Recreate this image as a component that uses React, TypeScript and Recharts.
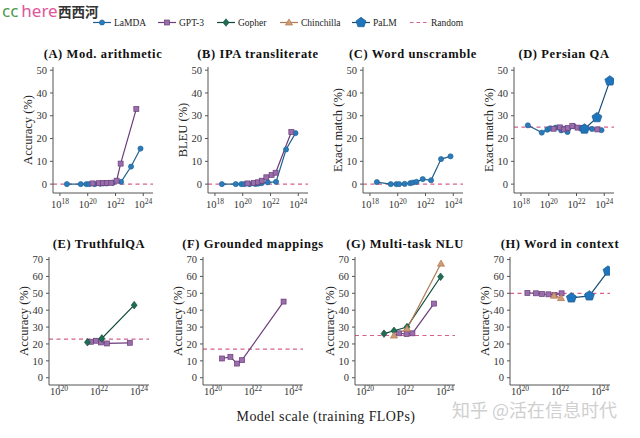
import React from 'react';
import { LineChart, Line, XAxis, YAxis, ReferenceLine } from 'recharts';

const SERIF = '"Liberation Serif", "DejaVu Serif", serif';

// x values are log10(training FLOPs)
const lamdaFlops = [18.5, 19.5, 19.9, 20.1, 20.5, 20.9, 21.1, 21.35, 21.8, 22.4, 23.12, 23.8];
const gpt3Flops = [20.35, 20.8, 21.1, 21.37, 21.7, 22.08, 22.37, 23.5];
const palmFlops = [22.57, 23.47, 24.4];

// (A) Mod. arithmetic
const lamdaArith = [0, 0, 0, 0, 0, 0.2, 0.3, 0.3, 0.6, 1.0, 7.7, 15.6];
const gpt3Arith = [0.3, 0.4, 0.4, 0.5, 0.6, 1.5, 9.0, 33.0];
// (B) IPA transliterate
const lamdaIpa = [0, 0, 0, 0, 0, 0.1, 0.2, 0.4, 0.8, 1.0, 15.2, 22.4];
const gpt3Ipa = [0.3, 0.5, 0.8, 1.5, 3.0, 4.0, 5.0, 22.9];
// (C) Word unscramble
const lamdaUnscramble = [0.9, 0, 0, 0, 0.1, 0.4, 0.7, 1.0, 2.2, 1.7, 11.0, 12.2];
// (D) Persian QA
const lamdaPersian = [25.8, 22.6, 23.9, 24.5, 24.8, 23.6, 24.3, 22.9, 25.4, 24.6, 24.2, 23.7];
const gpt3Persian = [24.3, 24.9, 24.0, 24.6, 25.6, 24.8, 24.5, 24.0];
const palmPersian = [24.2, 29.2, 45.3];
// (E) TruthfulQA
const gopherTruthfulFlops = [21.42, 22.14, 23.76];
const gopherTruthful = [21.0, 23.3, 43.0];
const gpt3TruthfulFlops = [21.6, 21.85, 22.1, 22.4, 23.54];
const gpt3Truthful = [21.3, 21.9, 20.9, 20.3, 20.7];
// (F) Grounded mappings
const gpt3GroundedFlops = [20.45, 20.87, 21.2, 21.45, 23.53];
const gpt3Grounded = [11.4, 12.4, 8.4, 10.4, 45.1];
// (G) Multi-task NLU
const gopherMmluFlops = [20.95, 21.45, 22.1, 23.78];
const gopherMmlu = [26.1, 27.8, 30.0, 59.8];
const chinchillaMmluFlops = [21.45, 22.1, 23.8];
const chinchillaMmlu = [25.0, 29.0, 67.6];
const gpt3MmluFlops = [21.7, 22.08, 22.37, 23.45];
const gpt3Mmlu = [26.3, 25.9, 26.3, 43.9];
// (H) Word in context
const gpt3WicFlops = [20.37, 20.8, 21.1, 21.42, 21.72, 22.08];
const gpt3Wic = [50.2, 50.0, 49.6, 49.4, 49.0, 50.0];
const chinchillaWicFlops = [21.7, 22.05];
const chinchillaWic = [48.6, 47.2];
const palmWic = [47.3, 48.5, 63.2];

const titles = [
  '(A) Mod. arithmetic', '(B) IPA transliterate', '(C) Word unscramble', '(D) Persian QA',
  '(E) TruthfulQA', '(F) Grounded mappings', '(G) Multi-task NLU', '(H) Word in context',
];
const yLabels = [
  'Accuracy (%)', 'BLEU (%)', 'Exact match (%)', 'Exact match (%)',
  'Accuracy (%)', 'Accuracy (%)', 'Accuracy (%)', 'Accuracy (%)',
];
const randomBaseline = [0, 0, 0, 25, 22.9, 17, 25, 50];
const legendModels = ['LaMDA', 'GPT-3', 'Gopher', 'Chinchilla', 'PaLM'];

// panel -> [model, x, y]
const panelSeries: [string, number[], number[]][][] = [
  [['LaMDA', lamdaFlops, lamdaArith], ['GPT-3', gpt3Flops, gpt3Arith]],
  [['LaMDA', lamdaFlops, lamdaIpa], ['GPT-3', gpt3Flops, gpt3Ipa]],
  [['LaMDA', lamdaFlops, lamdaUnscramble]],
  [['LaMDA', lamdaFlops, lamdaPersian], ['GPT-3', gpt3Flops, gpt3Persian], ['PaLM', palmFlops, palmPersian]],
  [['GPT-3', gpt3TruthfulFlops, gpt3Truthful], ['Gopher', gopherTruthfulFlops, gopherTruthful]],
  [['GPT-3', gpt3GroundedFlops, gpt3Grounded]],
  [['GPT-3', gpt3MmluFlops, gpt3Mmlu], ['Gopher', gopherMmluFlops, gopherMmlu], ['Chinchilla', chinchillaMmluFlops, chinchillaMmlu]],
  [['GPT-3', gpt3WicFlops, gpt3Wic], ['Chinchilla', chinchillaWicFlops, chinchillaWic], ['PaLM', palmFlops, palmWic]],
];

const STYLE: Record<string, { line: string; fill: string; stroke: string }> = {
  LaMDA: { line: '#22618f', fill: '#2b7bbb', stroke: '#1f5f90' },
  'GPT-3': { line: '#6a3d7a', fill: '#9a6dab', stroke: '#6a3d7a' },
  Gopher: { line: '#10493a', fill: '#1f6e52', stroke: '#10493a' },
  Chinchilla: { line: '#b07a55', fill: '#cf9a74', stroke: '#a8704a' },
  PaLM: { line: '#1a4c74', fill: '#1f74bb', stroke: '#1a5a8e' },
};
const RANDOM_COLOR = '#d6608a';
const AXIS_COLOR = '#555';

const TOP = {
  plotTop: 67, plotH: 126, xDomain: [17.5, 24.7], yDomain: [-3.9, 51.4],
  xTicks: [18, 20, 22, 24], yTicks: [0, 10, 20, 30, 40, 50], tickDy: 10, titleY: 58,
};
const BOTTOM = {
  plotTop: 257, plotH: 128, xDomain: [19.5, 24.5], yDomain: [-4.3, 71.5],
  xTicks: [20, 22, 24], yTicks: [0, 10, 20, 30, 40, 50, 60, 70], tickDy: 5, titleY: 248,
};
const axisXs = [53, 208, 363, 514, 49, 203, 355, 510];
const PLOT_W = 100;

function Marker({ cx, cy, model }: any) {
  if (cx == null || cy == null) return null;
  const s = STYLE[model];
  if (model === 'LaMDA') {
    return <circle cx={cx} cy={cy} r={2.6} fill={s.fill} stroke={s.stroke} strokeWidth={0.6} />;
  }
  if (model === 'GPT-3') {
    return <rect x={cx - 2.5} y={cy - 2.5} width={5} height={5} fill={s.fill} stroke={s.stroke} strokeWidth={0.7} />;
  }
  if (model === 'Gopher') {
    return <polygon points={`${cx},${cy - 3.8} ${cx + 3},${cy} ${cx},${cy + 3.8} ${cx - 3},${cy}`} fill={s.fill} stroke={s.stroke} strokeWidth={0.6} />;
  }
  if (model === 'Chinchilla') {
    return <polygon points={`${cx},${cy - 3.6} ${cx + 3.6},${cy + 2.6} ${cx - 3.6},${cy + 2.6}`} fill={s.fill} stroke={s.stroke} strokeWidth={0.6} />;
  }
  const pts = [0, 1, 2, 3, 4].map((i) => {
    const a = -Math.PI / 2 + (i * 2 * Math.PI) / 5;
    return `${cx + 5.2 * Math.cos(a)},${cy + 5.2 * Math.sin(a)}`;
  });
  return <polygon points={pts.join(' ')} fill={s.fill} stroke={s.stroke} strokeWidth={0.7} />;
}

function XTick({ x, y, payload, dy }: any) {
  return (
    <text x={x} y={y + dy} textAnchor="middle" fontFamily={SERIF} fontSize={10.5} fill="#333">
      <tspan>10</tspan>
      <tspan dy={-4.5} fontSize={7.5}>{payload.value}</tspan>
    </text>
  );
}

function Panel({ idx }: { idx: number }) {
  const row = idx < 4 ? TOP : BOTTOM;
  const axisX = axisXs[idx];
  return (
    <div style={{ position: 'absolute', left: axisX - 45, top: row.plotTop - 10 }}>
      <LineChart width={150} height={row.plotH + 40} margin={{ top: 10, right: 5, bottom: 0, left: 0 }}>
        <XAxis
          dataKey="x"
          type="number"
          domain={row.xDomain}
          ticks={row.xTicks}
          allowDataOverflow
          height={30}
          tickSize={3}
          tickMargin={2}
          stroke={AXIS_COLOR}
          tick={<XTick dy={row.tickDy} />}
        />
        <YAxis
          type="number"
          domain={row.yDomain}
          ticks={row.yTicks}
          allowDataOverflow
          width={45}
          tickSize={3}
          tickMargin={3}
          stroke={AXIS_COLOR}
          tick={{ fontSize: 10.5, fontFamily: SERIF, fill: '#333' }}
        />
        <ReferenceLine y={randomBaseline[idx]} stroke={RANDOM_COLOR} strokeWidth={1.2} strokeDasharray="4 3.5" />
        {panelSeries[idx].map(([model, xs, ys]) => (
          <Line
            key={model}
            data={xs.map((x, i) => ({ x, y: ys[i] }))}
            dataKey="y"
            type="linear"
            stroke={STYLE[model].line}
            strokeWidth={1.2}
            isAnimationActive={false}
            dot={(p: any) => <Marker key={`${model}-${p.index}`} cx={p.cx} cy={p.cy} model={model} />}
            activeDot={false}
          />
        ))}
      </LineChart>
    </div>
  );
}

const legendX = [93, 158, 217, 280, 352];

function Overlay() {
  return (
    <svg width={640} height={438} style={{ position: 'absolute', left: 0, top: 0, pointerEvents: 'none' }}>
      {/* watermark top-left */}
      <text x={2} y={16.5} fontFamily='"Noto Sans", sans-serif' fontSize={17}>
        <tspan fill="#4c9a4c">cc</tspan>
        <tspan fill="#e0559b" dx={3}>here</tspan>
      </text>
      <text x={58} y={17} fontFamily='"Noto Sans CJK SC", sans-serif' fontSize={13.5} fontWeight="bold" fill="#333">西西河</text>

      {/* legend */}
      {legendModels.map((m, i) => (
        <g key={m}>
          <line x1={legendX[i]} x2={legendX[i] + 18} y1={22.5} y2={22.5} stroke={STYLE[m].line} strokeWidth={1.2} />
          <Marker cx={legendX[i] + 9} cy={22.5} model={m} />
          <text x={legendX[i] + 21} y={26} fontFamily={SERIF} fontSize={9.5} fill="#222">{m}</text>
        </g>
      ))}
      <line x1={410} x2={428} y1={22.5} y2={22.5} stroke={RANDOM_COLOR} strokeWidth={1.2} strokeDasharray="3.5 3" />
      <text x={431} y={26} fontFamily={SERIF} fontSize={9.5} fill="#222">Random</text>

      {/* titles and y labels */}
      {titles.map((t, i) => {
        const row = i < 4 ? TOP : BOTTOM;
        const cx = axisXs[i] + PLOT_W / 2;
        const ly = row.plotTop + row.plotH / 2;
        const lx = axisXs[i] - 25;
        return (
          <g key={t}>
            <text x={cx} y={row.titleY} textAnchor="middle" fontFamily={SERIF} fontSize={12.5} fontWeight="bold" letterSpacing={0.6} fill="#111">{t}</text>
            <text x={lx} y={ly} textAnchor="middle" dominantBaseline="central" transform={`rotate(-90 ${lx} ${ly})`} fontFamily={SERIF} fontSize={12.5} fill="#222">{yLabels[i]}</text>
          </g>
        );
      })}

      <text x={326} y={421} textAnchor="middle" fontFamily={SERIF} fontSize={14} letterSpacing={0.4} fill="#222">Model scale (training FLOPs)</text>
      <text x={452} y={417} fontFamily='"Noto Sans CJK SC", sans-serif' fontSize={18} fill="#cfcfcf">知乎 @活在信息时代</text>
    </svg>
  );
}

export default function App() {
  return (
    <div style={{ position: 'fixed', left: 0, top: 0, width: 640, height: 438, background: '#fff', overflow: 'hidden' }}>
      {titles.map((_, i) => <Panel key={i} idx={i} />)}
      <Overlay />
    </div>
  );
}
